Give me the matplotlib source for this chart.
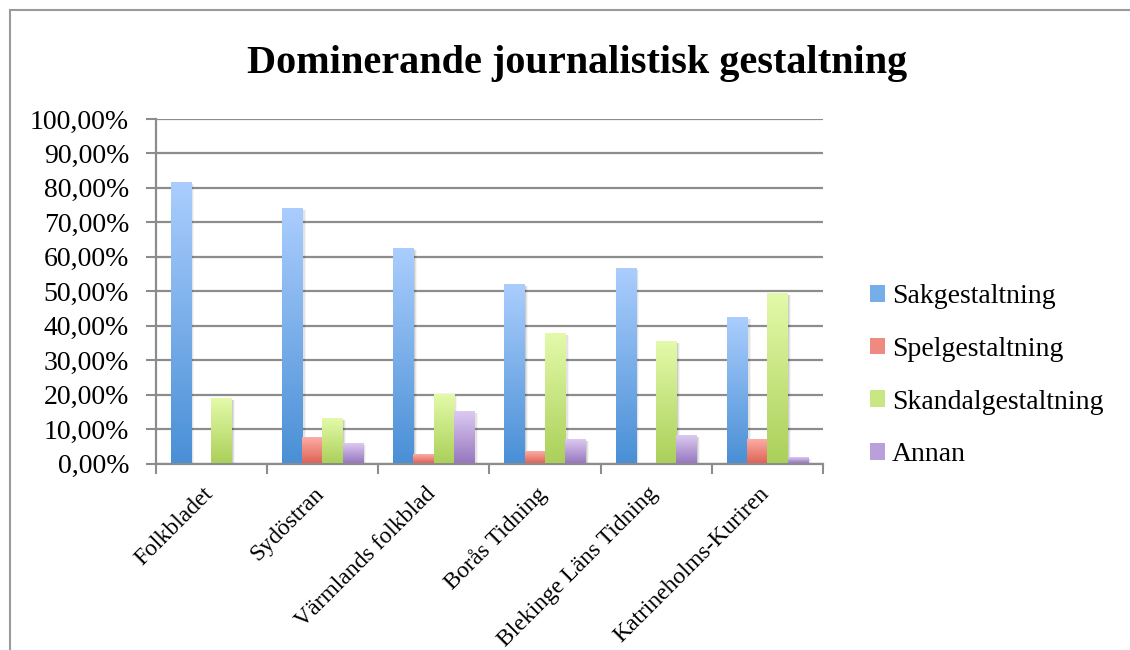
import numpy as np
import matplotlib
matplotlib.use("Agg")
import matplotlib.pyplot as plt
from matplotlib.patches import Rectangle, Patch
from matplotlib.colors import LinearSegmentedColormap
from matplotlib.ticker import FuncFormatter, FixedLocator
from matplotlib.transforms import ScaledTranslation

categories = ["Folkbladet", "Sydöstran", "Värmlands folkblad", "Borås Tidning",
              "Blekinge Läns Tidning", "Katrineholms-Kuriren"]
series_names = ["Sakgestaltning", "Spelgestaltning", "Skandalgestaltning", "Annan"]
sak = [81.3, 74.0, 62.4, 51.8, 56.6, 42.1]
spel = [0.0, 7.3, 2.4, 3.3, 0.0, 6.8]
skandal = [18.6, 12.9, 19.8, 37.7, 35.2, 49.1]
annan = [0.0, 5.6, 14.9, 6.8, 7.9, 1.7]
series = [sak, spel, skandal, annan]
yticks = [0, 10, 20, 30, 40, 50, 60, 70, 80, 90, 100]

# (top colour, bottom colour) per series
grads = [("#aacdfd", "#4a90d6"), ("#fcaca4", "#df6458"),
         ("#e3faa9", "#abd05a"), ("#dbc9f1", "#9878bf")]
mids = ["#76aeea", "#ee8a80", "#c8e683", "#b9a0da"]

plt.rcParams['font.family'] = ['Liberation Serif', 'DejaVu Serif']

fig = plt.figure(figsize=(11.3, 6.5), dpi=100)
W, H = 1130, 650
ax = fig.add_axes([155.5 / W, 1 - 463.5 / H, (823 - 155.5) / W, (463.5 - 119) / H])

n = len(categories)
nser = len(series)
bw = 1.0 / (nser + 1.5)
x = np.arange(n)

for si, vals in enumerate(series):
    top, bot = grads[si]
    cmap = LinearSegmentedColormap.from_list(f"g{si}", [bot, top])
    grad = np.linspace(0, 1, 64).reshape(-1, 1)
    for ci, v in enumerate(vals):
        if v <= 0:
            continue
        x0 = x[ci] - 0.5 + 0.75 * bw + si * bw
        x1 = x0 + bw
        # soft shadow
        for k, a in zip([0.012, 0.022, 0.032], [0.10, 0.07, 0.04]):
            ax.add_patch(Rectangle((x0 + k, 0), bw, v - 0.3, facecolor="#000000",
                                   alpha=a, edgecolor="none", zorder=2))
        ax.imshow(grad, cmap=cmap, origin="lower", aspect="auto",
                  extent=[x0, x1, 0, v], interpolation="bilinear", zorder=3)

ax.set_xlim(-0.5, n - 0.5)
ax.set_ylim(0, 100)

ax.yaxis.set_major_locator(FixedLocator(yticks))
ax.yaxis.set_major_formatter(FuncFormatter(lambda v, p: f"{v:.2f}".replace(".", ",") + "%"))
ax.grid(axis="y", color="#8c8c8c", linewidth=1.6, zorder=1)
ax.set_axisbelow(True)

ax.set_xticks(np.arange(n + 1) - 0.5)
ax.set_xticklabels([])
ax.set_xticks(x, minor=True)
ax.set_xticklabels(categories, minor=True, rotation=45, ha="right", va="top",
                   fontsize=17, rotation_mode="default")
ax.tick_params(axis="x", which="minor", length=0, pad=14)
ax.tick_params(axis="x", which="major", length=7, width=1.5, color="#8c8c8c", direction="out")
ax.tick_params(axis="y", length=7, width=1.5, color="#8c8c8c", labelsize=20, pad=12)
off = ScaledTranslation(6 / 100, 0, fig.dpi_scale_trans)
for lab in ax.get_xticklabels(minor=True):
    lab.set_transform(lab.get_transform() + off)

for s in ["top", "right"]:
    ax.spines[s].set_visible(False)
for s in ["left", "bottom"]:
    ax.spines[s].set_color("#8c8c8c")
    ax.spines[s].set_linewidth(1.6)

fig.text(577 / W, 1 - 63 / H, "Dominerande journalistisk gestaltning",
         ha="center", va="center", fontsize=29, fontweight="bold")

handles = [Patch(facecolor=mids[i], edgecolor="none", label=series_names[i]) for i in range(nser)]
fig.legend(handles=handles, loc="upper left", bbox_to_anchor=(870 / W, 1 - 284 / H),
           frameon=False, fontsize=20, handlelength=0.55, handleheight=0.55,
           handletextpad=0.25, labelspacing=1.0, borderaxespad=0, borderpad=0)

fig.add_artist(Rectangle((10 / W, -0.05), 1.2, 1 - 10 / H + 0.05, transform=fig.transFigure,
                         facecolor="none", edgecolor="#9a9a9a", linewidth=1.5))

fig.savefig("out.png", dpi=100)
